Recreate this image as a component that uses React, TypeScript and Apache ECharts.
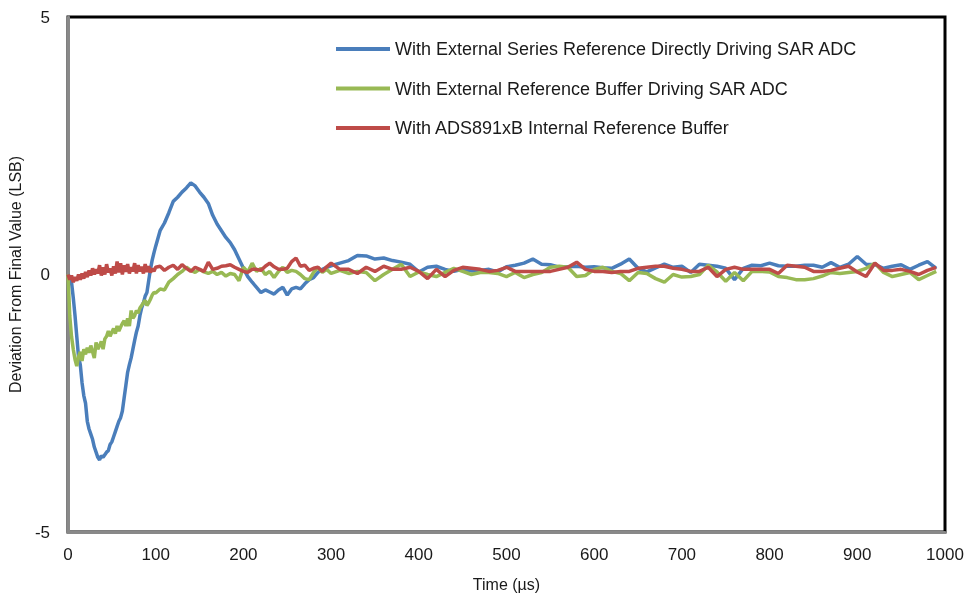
import React, { useEffect, useRef } from "react";
import * as echarts from "echarts";

const TIME = [
  0, 2, 4, 6, 8, 10, 12, 14, 16, 18, 20, 22, 24, 26, 28, 30, 32, 34, 36, 38, 40, 42, 44, 46, 48, 50,
  52, 54, 56, 58, 60, 62, 64, 66, 68, 70, 72, 74, 76, 78, 80, 82, 84, 86, 88, 90, 92, 94, 96, 98, 100,
  105, 110, 115, 120, 125, 130, 135, 140, 145, 150, 155, 160, 165, 170, 175, 180, 185, 190, 195, 200,
  205, 210, 215, 220, 225, 230, 235, 240, 245, 250, 255, 260, 265, 270, 275, 280, 285, 290, 295, 300,
  310, 320, 330, 340, 350, 360, 370, 380, 390, 400, 410, 420, 430, 440, 450, 460, 470, 480, 490, 500,
  510, 520, 530, 540, 550, 560, 570, 580, 590, 600, 610, 620, 630, 640, 650, 660, 670, 680, 690, 700,
  710, 720, 730, 740, 750, 760, 770, 780, 790, 800, 810, 820, 830, 840, 850, 860, 870, 880, 890, 900,
  910, 920, 930, 940, 950, 960, 970, 980, 990,
];

const SERIES_REF = [
  0, -0.05, -0.15, -0.45, -0.8, -1.2, -1.6, -1.75, -2.1, -2.35, -2.5, -2.85, -3.0, -3.1, -3.2, -3.35, -3.45, -3.55, -3.6, -3.52, -3.55, -3.5, -3.45, -3.42, -3.3, -3.25,
  -3.15, -3.05, -2.95, -2.85, -2.78, -2.65, -2.4, -2.15, -1.9, -1.75, -1.62, -1.45, -1.28, -1.12, -1.0, -0.8, -0.65, -0.55, -0.42, -0.35, -0.12, 0.1, 0.28, 0.42, 0.55,
  0.85, 1.0, 1.2, 1.42, 1.5, 1.6, 1.68, 1.78, 1.72, 1.6, 1.5, 1.38, 1.15, 0.98, 0.85, 0.72, 0.62, 0.48, 0.3, 0.12,
  -0.04, -0.15, -0.25, -0.35, -0.3, -0.34, -0.38, -0.3, -0.25, -0.4, -0.28, -0.25, -0.28, -0.18, -0.1, -0.06, 0.04, 0.1, 0.14, 0.17,
  0.22, 0.27, 0.37, 0.36, 0.3, 0.32, 0.27, 0.24, 0.2, 0.05, 0.14, 0.16, 0.1, 0.06, 0.1, 0.07, 0.08, 0.1, 0.05, 0.15,
  0.18, 0.22, 0.3, 0.2, 0.19, 0.14, 0.15, 0.16, 0.14, 0.15, 0.13, 0.12, 0.2, 0.3, 0.12, 0.05, 0.13, 0.2, 0.14, 0.16,
  0.04, 0.2, 0.18, 0.16, 0.12, -0.1, 0.12, 0.18, 0.17, 0.22, 0.17, 0.16, 0.16, 0.18, 0.18, 0.14, 0.23, 0.14, 0.2, 0.35,
  0.2, 0.19, 0.12, 0.16, 0.19, 0.1, 0.18, 0.25, 0.12,
];

const EXT_BUFFER = [
  0, -0.8, -1.2, -1.45, -1.65, -1.78, -1.6, -1.5, -1.68, -1.45, -1.55, -1.42, -1.52, -1.38, -1.5, -1.62, -1.32, -1.45, -1.38, -1.3, -1.45, -1.25, -1.2, -1.1, -1.2, -1.12,
  -1.05, -1.15, -1.0, -1.1, -1.02, -0.95, -0.9, -1.0, -0.85, -1.0, -0.7, -0.85, -0.8, -0.7, -0.75, -0.65, -0.6, -0.55, -0.5, -0.6, -0.55, -0.48, -0.4, -0.35, -0.36,
  -0.28, -0.3, -0.15, -0.08, 0.0, 0.06, 0.14, 0.08, 0.04, 0.1, 0.05, 0.02, 0.06, 0.0, 0.04, -0.03, 0.02, 0.0, -0.12, 0.14,
  0.05, 0.22, 0.06, 0.12, 0.0, 0.06, -0.06, 0.06, 0.14, 0.04, 0.08, 0.06, 0.0, -0.08, -0.1, 0.04, 0.14, 0.04, 0.1, 0.02,
  0.08, 0.02, 0.06, 0.04, -0.12, 0.0, 0.1, 0.2, -0.04, 0.05, 0.0, -0.04, 0.04, 0.12, 0.06, 0.0, 0.04, 0.04, 0.02, -0.04,
  0.04, -0.06, 0.0, 0.04, 0.14, 0.16, 0.14, -0.04, -0.02, 0.1, 0.14, 0.06, 0.02, -0.12, 0.04, 0.02, -0.08, -0.15, 0.0, -0.05,
  -0.04, 0.0, 0.18, 0.05, -0.13, 0.04, -0.12, 0.06, 0.06, 0.05, -0.04, -0.06, -0.1, -0.1, -0.08, -0.03, 0.04, 0.02, 0.04, 0.06,
  0.12, 0.22, 0.04, -0.04, 0.0, 0.04, -0.1, -0.02, 0.06,
];

const INTERNAL_BUFFER = [
  0, -0.1, -0.02, -0.15, -0.05, -0.12, 0.0, -0.1, 0.02, -0.08, 0.05, -0.05, 0.08, -0.02, 0.12, 0.0, 0.1, 0.02, 0.18, -0.02, 0.14, 0.0, 0.2, 0.04, 0.12, -0.02,
  0.16, 0.02, 0.25, 0.04, 0.22, 0.0, 0.18, 0.05, 0.2, 0.02, 0.14, 0.06, 0.22, 0.02, 0.18, 0.06, 0.15, 0.02, 0.2, 0.05, 0.16, 0.04, 0.12, 0.06, 0.14,
  0.16, 0.08, 0.14, 0.18, 0.1, 0.19, 0.12, 0.06, 0.14, 0.1, 0.06, 0.24, 0.1, 0.12, 0.16, 0.17, 0.19, 0.14, 0.1, 0.06,
  0.04, 0.1, 0.1, 0.08, 0.16, 0.22, 0.15, 0.1, 0.1, 0.12, 0.25, 0.32, 0.16, 0.18, 0.08, 0.12, 0.14, 0.06, 0.15, 0.22,
  0.1, 0.1, 0.02, 0.14, 0.06, 0.16, 0.1, 0.1, 0.14, 0.06, -0.08, 0.1, -0.04, 0.08, 0.14, 0.12, 0.1, 0.06, 0.08, 0.14,
  0.06, 0.06, 0.06, 0.06, 0.06, 0.1, 0.14, 0.24, 0.1, 0.06, 0.06, 0.04, 0.06, 0.06, 0.12, 0.14, 0.16, 0.16, 0.12, 0.1,
  0.06, 0.06, 0.14, -0.04, 0.1, 0.14, 0.1, 0.1, 0.1, 0.1, 0.02, 0.18, 0.16, 0.14, 0.06, 0.06, 0.08, 0.12, 0.16, 0.05,
  -0.04, 0.22, 0.08, 0.08, 0.1, 0.06, 0.0, 0.08, 0.14,
];

const SERIES_NAMES = [
  "With External Series Reference Directly Driving SAR ADC",
  "With External Reference Buffer Driving SAR ADC",
  "With ADS891xB Internal Reference Buffer",
];
const COLORS = ["#4A7EBB", "#98B954", "#BE4B48"];
const X_TICKS = [0, 100, 200, 300, 400, 500, 600, 700, 800, 900, 1000];
const Y_TICKS = [-5, 0, 5];

const FONT = "'Liberation Sans', Arial, sans-serif";

export default function App() {
  const ref = useRef<HTMLDivElement>(null);
  useEffect(() => {
    if (!ref.current) return;
    const chart = echarts.init(ref.current, null, { renderer: "svg" });
    const allValues = [SERIES_REF, EXT_BUFFER, INTERNAL_BUFFER];
    chart.setOption({
      animation: false,
      textStyle: { fontFamily: FONT },
      grid: {
        left: 68,
        right: 22,
        top: 17,
        bottom: 62,
        containLabel: false,
        outerBoundsMode: "none",
        show: true,
        borderColor: "#000",
        borderWidth: 3,
        backgroundColor: "transparent",
      },
      legend: {
        orient: "vertical",
        left: 331,
        top: 35,
        itemWidth: 54,
        itemHeight: 18,
        itemGap: 21.5,
        textStyle: { fontSize: 18, color: "#1a1a1a", fontFamily: FONT },
        data: SERIES_NAMES.map((n, i) => ({
          name: n,
          icon: "path://M0,0 L54,0 L54,4 L0,4 Z",
          itemStyle: { color: COLORS[i] },
        })),
      },
      xAxis: {
        type: "value",
        min: X_TICKS[0],
        max: X_TICKS[X_TICKS.length - 1],
        interval: 100,
        name: "Time (µs)",
        nameLocation: "middle",
        nameGap: 44,
        nameTextStyle: { fontSize: 16, color: "#1a1a1a", fontFamily: FONT },
        axisLine: { show: true, onZero: false, lineStyle: { color: "#898989", width: 3 } },
        axisTick: { show: false },
        splitLine: { show: false },
        axisLabel: {
          fontSize: 17,
          color: "#1a1a1a",
          margin: 14,
          fontFamily: FONT,
          formatter: (v: number) => String(v),
        },
      },
      yAxis: {
        type: "value",
        min: Y_TICKS[0],
        max: Y_TICKS[Y_TICKS.length - 1],
        interval: 5,
        name: "Deviation From Final Value (LSB)",
        nameLocation: "middle",
        nameGap: 37,
        nameTextStyle: { fontSize: 16, color: "#1a1a1a", fontFamily: FONT },
        axisLine: { show: true, onZero: false, lineStyle: { color: "#898989", width: 3 } },
        axisTick: { show: false },
        splitLine: { show: false },
        axisLabel: { fontSize: 17, color: "#1a1a1a", margin: 18, fontFamily: FONT },
      },
      series: SERIES_NAMES.map((n, i) => ({
        name: n,
        type: "line",
        showSymbol: false,
        symbol: "none",
        lineStyle: { color: COLORS[i], width: 3.5 },
        itemStyle: { color: COLORS[i] },
        data: TIME.map((t, k) => [t, allValues[i][k]]),
      })),
    });
    return () => chart.dispose();
  }, []);
  return (
    <div
      ref={ref}
      style={{ position: "fixed", left: 0, top: 0, width: 967, height: 594 }}
    />
  );
}
